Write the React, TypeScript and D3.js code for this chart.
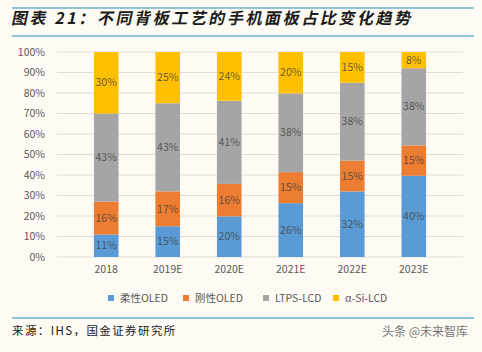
import * as d3 from 'd3';
import React from 'react';

const years = ['2018', '2019E', '2020E', '2021E', '2022E', '2023E'];
const flexOled = [11, 15, 20, 26, 32, 40];
const rigidOled = [16, 17, 16, 15, 15, 15];
const ltpsLcd = [43, 43, 41, 38, 38, 38];
const aSiLcd = [30, 25, 24, 20, 15, 8];
const seriesNames = ['柔性OLED', '刚性OLED', 'LTPS-LCD', 'α-Si-LCD'];
const seriesColors = ['#5b9bd5', '#ed7d31', '#a5a5a5', '#ffc000'];
const yTicks = [0, 10, 20, 30, 40, 50, 60, 70, 80, 90, 100];

const W = 482;
const H = 352;
const font = '"Noto Sans CJK SC", "Open Sans", sans-serif';

export default function App() {
  const rows = years.map((y, i) => ({
    year: y,
    s0: flexOled[i],
    s1: rigidOled[i],
    s2: ltpsLcd[i],
    s3: aSiLcd[i],
  }));
  const keys = ['s0', 's1', 's2', 's3'];
  const stacked = d3.stack<any>().keys(keys).offset(d3.stackOffsetExpand)(rows);
  const raw = [flexOled, rigidOled, ltpsLcd, aSiLcd];

  const x = d3.scaleBand().domain(years).range([57, 463]).padding(0.6);
  const y = d3.scaleLinear().domain([0, 1]).range([257, 52]);

  const legendX = [108, 183, 263, 333];

  return (
    <svg width={W} height={H} style={{ position: 'absolute', left: 0, top: 0, background: '#fdfbf4' }}>
      <rect width={W} height={H} fill="#fdfbf4" />
      {/* title */}
      <line x1={12} x2={474} y1={8} y2={8} stroke="#6fb0cc" strokeWidth={1.5} />
      <text x={12} y={24} fontFamily={font} fontSize={16} fontWeight="bold" fill="#1a1a1a"
        letterSpacing={2.6} transform="translate(4,0) skewX(-12)">
        图表 21：不同背板工艺的手机面板占比变化趋势
      </text>
      <line x1={12} x2={474} y1={36} y2={36} stroke="#6fb0cc" strokeWidth={1.5} />

      {/* grid + y axis */}
      {yTicks.map(t => (
        <g key={t}>
          <line x1={57} x2={463} y1={y(t / 100)} y2={y(t / 100)} stroke="#e0ddd4" strokeWidth={1} />
          <text x={45} y={y(t / 100)} dy="0.35em" textAnchor="end" fontFamily={font} fontSize={10.5} fill="#595959">
            {t}%
          </text>
        </g>
      ))}

      {/* bars */}
      {stacked.map((layer, si) => (
        <g key={si}>
          {layer.map((d, i) => (
            <g key={i}>
              <rect x={x(years[i])} y={y(d[1])} width={x.bandwidth()} height={y(d[0]) - y(d[1])} fill={seriesColors[si]} />
              <text x={(x(years[i]) as number) + x.bandwidth() / 2} y={(y(d[0]) + y(d[1])) / 2} dy="0.35em"
                textAnchor="middle" fontFamily={font} fontSize={10.5} fill="#404040" fillOpacity={0.8}>
                {raw[si][i]}%
              </text>
            </g>
          ))}
        </g>
      ))}

      {/* x axis labels */}
      {years.map(yr => (
        <text key={yr} x={(x(yr) as number) + x.bandwidth() / 2} y={273} textAnchor="middle" fontFamily={font}
          fontSize={10.5} fill="#595959">
          {yr}
        </text>
      ))}

      {/* legend */}
      {seriesNames.map((n, i) => (
        <g key={n}>
          <rect x={legendX[i]} y={295} width={6} height={6} fill={seriesColors[i]} />
          <text x={legendX[i] + 12} y={298} dy="0.35em" fontFamily={font} fontSize={10.5} fill="#595959">
            {n}
          </text>
        </g>
      ))}

      <line x1={12} x2={474} y1={318} y2={318} stroke="#6fb0cc" strokeWidth={1.5} />
      <text x={12} y={335} fontFamily={font} fontSize={11.5} fill="#1a1a1a" letterSpacing={1.4}>
        来源：IHS，国金证券研究所
      </text>
      <text x={468} y={336} textAnchor="end" fontFamily={font} fontSize={12} fill="#777">
        头条 @未来智库
      </text>
    </svg>
  );
}
